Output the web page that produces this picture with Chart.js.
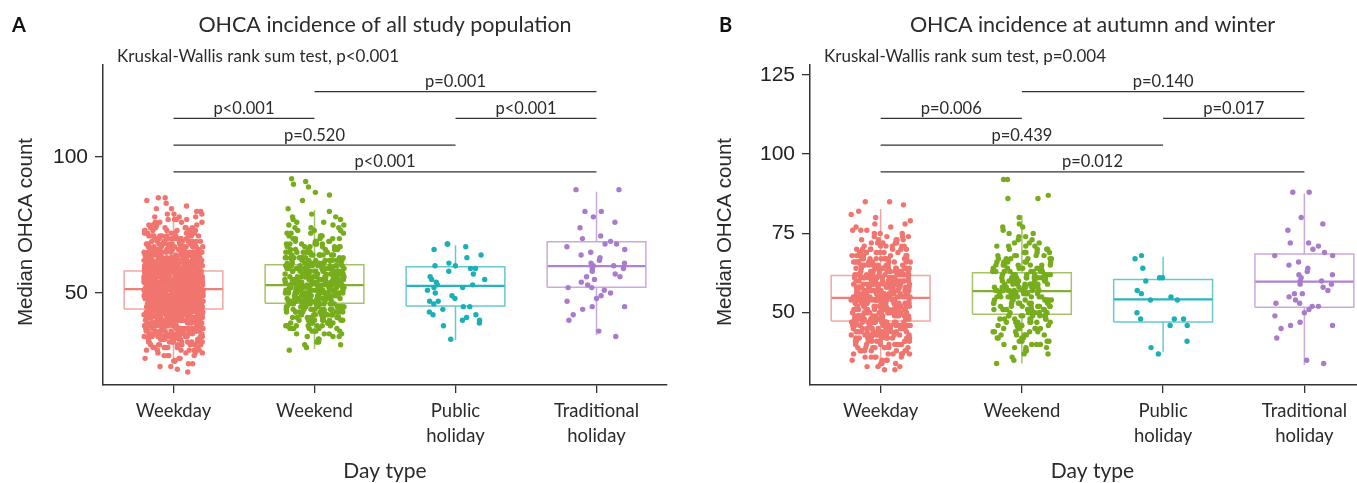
<!DOCTYPE html>
<html>
<head>
<meta charset="utf-8">
<script src="https://cdn.jsdelivr.net/npm/chart.js@4.4.0/dist/chart.umd.min.js"></script>
<style>
  html, body { margin: 0; padding: 0; background: #fff; overflow: hidden; width: 1357px; height: 483px; }
  #wrapA { position: absolute; left: 0; top: 0; width: 680px; height: 483px; }
  #wrapB { position: absolute; left: 680px; top: 0; width: 700px; height: 483px; }
</style>
</head>
<body>
<div id="wrapA"><canvas id="chartA" width="680" height="483"></canvas></div>
<div id="wrapB"><canvas id="chartB" width="700" height="483"></canvas></div>
<script>
const dayTypes = ['Weekday', 'Weekend', ['Public', 'holiday'], ['Traditional', 'holiday']];

// Panel A - all study population. Dense groups: number of days per OHCA count, starting at *From
const weekdayAllFrom = 21;
const weekdayAllCounts = [1,1,2,2,3,3,4,4,6,7, 8,10,11,14,15,17,20,22,25,28, 31,34,36,38,41,42,43,45,46,48,
  48,48,46,46,45,42,41,38,36,34, 31,28,27,24,21,18,17,14,13,11, 10,8,7,6,5,4,4,3,3,2,2,1,1,1,2];
const weekendAllFrom = 29;
const weekendAllCounts = [1,1,2,2,3,3,4,5,6,7, 8,9,10,11,12,13,14,15,16,16, 17,17,17,17,17,17,16,16,15,15,
  14,13,12,11,10,9,8,7,7,6, 5,5,4,4,3,3,3,2,2,2, 1,1,1,0,0,1,0,1,1,0, 1,1,1,1];
const publicAll = [33,38,39,40,40,41,42,42,43,44,45,45,46,47,47,48,49,50,51,52,52,53,53,54,55,55,56,57,58,59,
  59,60,60,61,63,64,66,67,68,68];
const tradAll = [34,36,40,42,44,45,45,47,48,49,50,51,52,52,53,54,55,56,56,57,58,59,59,60,60,61,61,62,63,64,
  65,66,67,68,68,69,70,71,74,76,78,80,80,88,88];

// box statistics
const q1All = [44.1, 46.2, 45.2, 52.1];
const medAll = [51.4, 52.9, 52.6, 59.9];
const q3All = [58.1, 60.4, 59.7, 68.8];
const loAll = [24.0, 29.4, 32.7, 34.6];
const hiAll = [80.0, 80.5, 67.6, 87.2];

// Panel B - autumn and winter
const weekdayWinterFrom = 32;
const weekdayWinterCounts = [2,3,3,4,5,6,7,8,8,10, 11,12,13,14,16,17,18,18,19,19, 20,20,20,20,20,19,19,18,18,17,
  16,14,13,12,11,10,9,8,7,6, 5,5,4,3,3,2,2,1,1,1, 1,0,1,2];
const weekendWinterFrom = 34;
const weekendWinterCounts = [1,1,1,2,3,3,4,4,4,5, 5,6,6,7,7,8,8,8,9,9, 9,10,10,10,10,9,9,9,8,8,
  7,7,6,6,5,5,4,4,3,2, 2,2,1,2,1,0,1,0,0,0, 0,0,2,1,0,0,0,0,2];
const publicWinter = [37,39,41,46,46,48,48,48,50,54,54,55,56,57,60,61,61,64,67,68];
const tradWinter = [34,35,42,45,46,46,47,49,50,51,52,52,53,53,54,55,56,56,57,58,59,59,60,60,61,62,62,63,64,65,
  66,68,68,69,70,71,72,72,76,78,80,88,88];

const q1Winter = [47.4, 49.5, 47.1, 51.7];
const medWinter = [54.7, 56.8, 54.2, 59.8];
const q3Winter = [61.7, 62.6, 60.5, 68.5];
const loWinter = [32.6, 34.0, 37.7, 33.5];
const hiWinter = [82.7, 80.8, 67.6, 87.6];

// pairwise comparisons (category numbers) and their p values
const pairs = [[2, 4], [1, 2], [3, 4], [1, 3], [1, 4]];
const pAll = ['p=0.001', 'p<0.001', 'p<0.001', 'p=0.520', 'p<0.001'];
const pWinter = ['p=0.140', 'p=0.006', 'p=0.017', 'p=0.439', 'p=0.012'];

const yTicksAll = [50, 100];
const yTicksWinter = [50, 75, 100, 125];

const ptColors = ['#F1756F', '#77AD1C', '#1BB0B8', '#A87BCB'];
const boxColors = ['rgba(238,150,146,0.85)', 'rgba(150,185,80,0.85)', 'rgba(80,190,196,0.85)', 'rgba(196,160,222,0.9)'];
const medColors = ['rgba(236,120,114,0.95)', 'rgba(124,170,40,0.95)', 'rgba(30,176,184,0.95)', 'rgba(170,124,205,0.95)'];

const TXT = '#2b2b2b';
const SANS = 'Lato, "Open Sans", sans-serif';
const ARIAL = '"Liberation Sans", Arial, sans-serif';

function expand(from, counts) {
  const out = [];
  counts.forEach((n, i) => { for (let k = 0; k < n; k++) out.push(from + i); });
  return out;
}

function jitterOffset(k, cat) {
  // fixed pseudo-random sideways offset in [-0.5, 0.5), same every run
  const s = Math.sin((k + 1) * 12.9898 + cat * 78.233) * 43758.5453;
  return s - Math.floor(s) - 0.5;
}

function jittered(values, cat) {
  return values.map((v, k) => ({ x: cat + jitterOffset(k, cat) * 0.42, y: v }));
}

function boxDatasets(i, q1, med, q3, lo, hi) {
  const x = i + 1, w = 0.35;
  const common = { showLine: true, pointRadius: 0, fill: false, order: 2, spanGaps: false };
  return [
    Object.assign({ data: [{x: x - w, y: q1[i]}, {x: x + w, y: q1[i]}, {x: x + w, y: q3[i]}, {x: x - w, y: q3[i]}, {x: x - w, y: q1[i]}],
      borderColor: boxColors[i], borderWidth: 1.5 }, common),
    Object.assign({ data: [{x: x - w, y: med[i]}, {x: x + w, y: med[i]}],
      borderColor: medColors[i], borderWidth: 2.2 }, common),
    Object.assign({ data: [{x: x, y: lo[i]}, {x: x, y: q1[i]}, {x: x, y: null}, {x: x, y: q3[i]}, {x: x, y: hi[i]}],
      borderColor: boxColors[i], borderWidth: 1.5 }, common)
  ];
}

const panelText = {
  id: 'panelText',
  afterDraw(chart, args, opts) {
    const ctx = chart.ctx;
    const area = chart.chartArea;
    const xs = chart.scales.x;
    const mid = (area.left + opts.plotRight) / 2;
    ctx.save();
    ctx.fillStyle = '#111';
    ctx.font = 'bold 20px ' + SANS;
    ctx.textAlign = 'left';
    ctx.textBaseline = 'alphabetic';
    ctx.fillText(opts.letter, opts.letterX, 32);

    ctx.fillStyle = TXT;
    ctx.font = '21.5px ' + SANS;
    ctx.textAlign = 'center';
    ctx.fillText(opts.title, mid, 32);

    ctx.font = '17px ' + SANS;
    ctx.textAlign = 'left';
    ctx.fillText(opts.kw, opts.kwX, 61.5);

    // axis titles
    ctx.font = '21px ' + SANS;
    ctx.textAlign = 'center';
    ctx.fillText('Day type', mid, 478);

    ctx.save();
    ctx.translate(opts.yTitleX, 232);
    ctx.rotate(-Math.PI / 2);
    ctx.font = '20.5px ' + ARIAL;
    ctx.fillText('Median OHCA count', 0, 0);
    ctx.restore();

    // significance brackets
    const rowOf = [0, 1, 1, 2, 3];
    ctx.strokeStyle = '#333';
    ctx.lineWidth = 1.3;
    ctx.font = '16.5px ' + SANS;
    pairs.forEach((p, j) => {
      const y = area.top + 26.7 * (rowOf[j] + 1);
      const x1 = xs.getPixelForValue(p[0]);
      const x2 = xs.getPixelForValue(p[1]);
      ctx.beginPath();
      ctx.moveTo(x1, y);
      ctx.lineTo(x2, y);
      ctx.stroke();
      ctx.fillText(opts.pvals[j], (x1 + x2) / 2, y - 4.5);
    });
    ctx.restore();
  }
};

function makePanel(id, groups, stats, yTicks, yMin, yMax, padRight, yWidth, text) {
  const datasets = [];
  groups.forEach((vals, i) => {
    datasets.push({ data: jittered(vals, i + 1), backgroundColor: ptColors[i], borderWidth: 0,
      pointRadius: 2.7, pointHoverRadius: 2.7, order: 1 });
  });
  groups.forEach((vals, i) => { datasets.push(...boxDatasets(i, ...stats)); });

  return new Chart(document.getElementById(id), {
    type: 'scatter',
    data: { datasets: datasets },
    options: {
      responsive: false,
      animation: false,
      events: [],
      layout: { padding: { left: 0, right: padRight, top: 65, bottom: 0 } },
      plugins: { legend: { display: false }, tooltip: { enabled: false }, panelText: text },
      scales: {
        x: {
          type: 'linear', min: 0.5, max: 4.5,
          afterBuildTicks: s => { s.ticks = [1, 2, 3, 4].map(v => ({ value: v })); },
          afterFit: s => { s.height = 98; },
          grid: { drawOnChartArea: false, tickLength: 8, color: '#333', lineWidth: 1.3 },
          border: { display: true, color: '#333', width: 1.5 },
          ticks: { callback: v => dayTypes[v - 1], color: TXT, padding: 6, maxRotation: 0, autoSkip: false,
            font: { family: SANS, size: 18.5, lineHeight: '25px' } }
        },
        y: {
          type: 'linear', min: yMin, max: yMax,
          afterBuildTicks: s => { s.ticks = yTicks.map(v => ({ value: v })); },
          afterFit: s => { s.width = yWidth; },
          grid: { drawOnChartArea: false, tickLength: 8, color: '#333', lineWidth: 1.3 },
          border: { display: true, color: '#333', width: 1.5 },
          ticks: { color: '#222', padding: 7, font: { family: ARIAL, size: 21 } }
        }
      }
    },
    plugins: [panelText]
  });
}

makePanel('chartA',
  [expand(weekdayAllFrom, weekdayAllCounts), expand(weekendAllFrom, weekendAllCounts), publicAll, tradAll],
  [q1All, medAll, q3All, loAll, hiAll], yTicksAll, 16.2, 133.8, 13, 103,
  { letter: 'A', letterX: 12, title: 'OHCA incidence of all study population', plotRight: 667,
    kw: 'Kruskal-Wallis rank sum test, p<0.001', kwX: 117, yTitleX: 32, pvals: pAll });

makePanel('chartB',
  [expand(weekdayWinterFrom, weekdayWinterCounts), expand(weekendWinterFrom, weekendWinterCounts), publicWinter, tradWinter],
  [q1Winter, medWinter, q3Winter, loWinter, hiWinter], yTicksWinter, 27.2, 128.1, 5, 130,
  { letter: 'B', letterX: 39, title: 'OHCA incidence at autumn and winter', plotRight: 695,
    kw: 'Kruskal-Wallis rank sum test, p=0.004', kwX: 144, yTitleX: 51, pvals: pWinter });
</script>
</body>
</html>
